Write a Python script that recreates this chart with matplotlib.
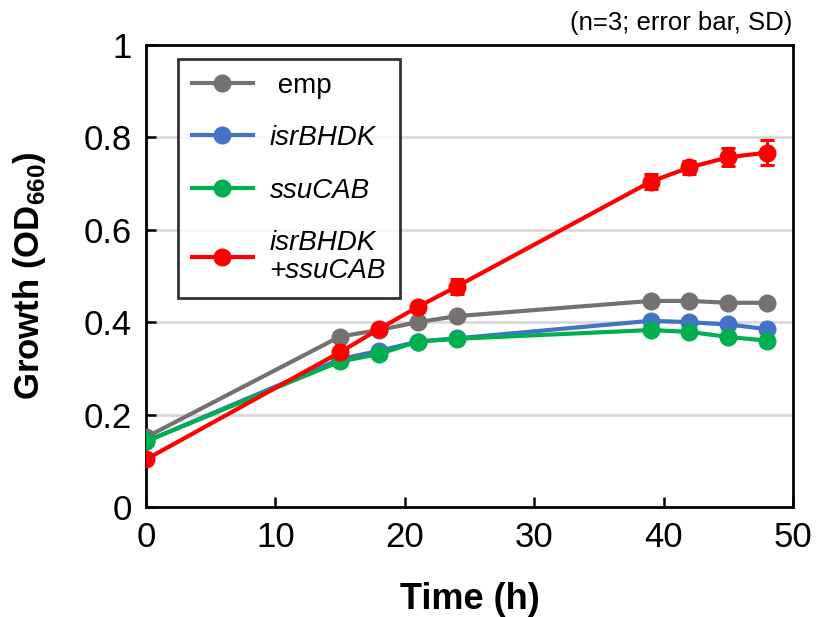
import numpy as np
import matplotlib.pyplot as plt

plt.rcParams['font.family'] = ['Liberation Sans', 'DejaVu Sans']
plt.rcParams['mathtext.fontset'] = 'custom'
plt.rcParams['mathtext.rm'] = 'Liberation Sans'
plt.rcParams['mathtext.bf'] = 'Liberation Sans:bold'

time_h = [0, 15, 18, 21, 24, 39, 42, 45, 48]

emp = [0.151, 0.369, 0.383, 0.400, 0.413, 0.446, 0.446, 0.442, 0.442]
emp_sd = [0.004, 0.005, 0.004, 0.004, 0.004, 0.005, 0.005, 0.004, 0.005]

isr = [0.142, 0.320, 0.338, 0.358, 0.365, 0.403, 0.400, 0.395, 0.385]
isr_sd = [0.004, 0.004, 0.004, 0.004, 0.004, 0.005, 0.005, 0.005, 0.005]

ssu = [0.142, 0.315, 0.331, 0.358, 0.364, 0.383, 0.379, 0.368, 0.360]
ssu_sd = [0.004, 0.004, 0.004, 0.004, 0.004, 0.005, 0.004, 0.005, 0.005]

isr_ssu = [0.103, 0.335, 0.385, 0.433, 0.477, 0.704, 0.735, 0.757, 0.767]
isr_ssu_sd = [0.004, 0.010, 0.008, 0.010, 0.016, 0.016, 0.014, 0.020, 0.027]

series = [
    (emp, emp_sd, '#767171', ' emp', 'normal'),
    (isr, isr_sd, '#4472C4', 'isrBHDK', 'italic'),
    (ssu, ssu_sd, '#00B050', 'ssuCAB', 'italic'),
    (isr_ssu, isr_ssu_sd, '#FF0000', 'isrBHDK\n+ssuCAB', 'italic'),
]

fig = plt.figure(figsize=(8.18, 6.17), dpi=100)
ax = fig.add_axes([0.1785, 0.1783, 0.7909, 0.7488])

handles = []
for y, sd, color, label, style in series:
    ax.errorbar(time_h, y, yerr=sd, fmt='none', ecolor=color, capsize=5,
                capthick=2.2, elinewidth=2.2, zorder=3)
    line, = ax.plot(time_h, y, color=color, linewidth=3, marker='o', ms=12,
                    label=label, zorder=4)
    handles.append(line)

ax.set_xlim(0, 50)
ax.set_ylim(0, 1)
ax.set_xticks(np.arange(0, 51, 10))
ax.set_yticks(np.arange(0, 1.01, 0.2))
ax.set_yticklabels(['0', '0.2', '0.4', '0.6', '0.8', '1'])
ax.yaxis.grid(True, color='#D9D9D9', lw=2, zorder=0)
ax.set_axisbelow(True)
ax.tick_params(direction='in', length=7, width=1.8, labelsize=25, pad=10)
for sp in ax.spines.values():
    sp.set_linewidth(2)

ax.set_xlabel('Time (h)', fontsize=26, fontweight='bold', labelpad=20)
ax.set_ylabel(r'Growth (OD$_\mathbf{660}$)', fontsize=25, fontweight='bold', labelpad=26)

fig.text(0.969, 0.943, '(n=3; error bar, SD)', ha='right', va='bottom', fontsize=18.5)

leg = ax.legend(handles=handles, loc='upper left', bbox_to_anchor=(0.0495, 0.970),
                borderaxespad=0, fontsize=20, frameon=True, fancybox=False,
                edgecolor='black', handlelength=2.2, labelspacing=0.95,
                borderpad=0.5, handletextpad=0.6)
leg.get_frame().set_linewidth(2)
for txt, s in zip(leg.get_texts(), series):
    txt.set_fontstyle(s[4])
    txt.set_linespacing(1.1)

fig.savefig('out.png', dpi=100)
